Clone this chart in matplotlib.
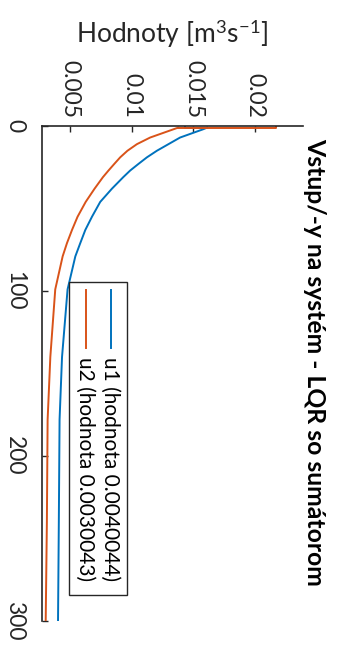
import matplotlib
matplotlib.use("Agg")
import matplotlib.pyplot as plt
from matplotlib.patches import Rectangle

plt.rcParams['font.family'] = ['Lato', 'DejaVu Sans']
plt.rcParams['mathtext.fontset'] = 'custom'
plt.rcParams['mathtext.rm'] = 'Lato'
plt.rcParams['mathtext.it'] = 'Lato:italic'
plt.rcParams['mathtext.bf'] = 'Lato:bold'

# ---- data -------------------------------------------------------------
title = 'Vstup/-y na systém - LQR so sumátorom'
value_label = 'Hodnoty [m$^3$s$^{-1}$]'
series_names = ['u1', 'u2']
final_values = [0.0040044, 0.0030043]

time_ticks = [0, 100, 200, 300]
time_tick_labels = ['0', '100', '200', '300']
value_ticks = [0.005, 0.01, 0.015, 0.02]
value_tick_labels = ['0.005', '0.01', '0.015', '0.02']

t_u1 = [0, 1, 2, 7, 11, 15, 19, 23, 27, 31, 38, 46, 55, 63, 71, 79,
        99, 140, 178, 240, 300]
u1 = [0.01432, 0.01610, 0.01578, 0.01391, 0.01297, 0.01203, 0.01122,
      0.01053, 0.00986, 0.00930, 0.00838, 0.00743, 0.00676, 0.00622,
      0.00581, 0.00541, 0.00478, 0.00433, 0.00413, 0.00407, 0.0040044]

t_u2 = [0, 1, 7, 11, 15, 19, 23, 27, 31, 38, 46, 55, 63, 71, 79,
        99, 140, 178, 240, 300]
u2 = [0.02172, 0.01375, 0.01148, 0.01041, 0.00964, 0.00905, 0.00857,
      0.00810, 0.00765, 0.00697, 0.00625, 0.00559, 0.00514, 0.00473,
      0.00438, 0.00378, 0.00338, 0.00316, 0.00310, 0.0030043]

colors = ['#0072BD', '#D95319']
axis_color = '#262626'

# ---- figure -----------------------------------------------------------
W, H = 339, 647
fig = plt.figure(figsize=(W / 100, H / 100), dpi=100)
ax_left, ax_right, ax_top, ax_bottom = 42, 303, 126, 621
ax = fig.add_axes([ax_left / W, 1 - ax_bottom / H,
                   (ax_right - ax_left) / W, (ax_bottom - ax_top) / H])

for t, u, c in zip([t_u1, t_u2], [u1, u2], colors):
    # first sample is held for one step before the response starts
    ax.plot(u[:2], t[:2], drawstyle='steps-pre', color=c, lw=1.4)
    ax.plot(u[1:], t[1:], color=c, lw=1.4)

all_u = u1 + u2
ax.set_xlim(0.9 * min(all_u), 1.1 * max(all_u))
ax.set_ylim(300, 0)

ax.xaxis.tick_top()
ax.set_xticks(value_ticks, value_tick_labels)
ax.set_yticks(time_ticks, time_tick_labels)
ax.tick_params(axis='both', direction='in', length=4, width=1.0,
               color=axis_color, labelcolor=axis_color, labelsize=16.5)
ax.tick_params(axis='x', labelrotation=-90, pad=6)
ax.tick_params(axis='y', labelrotation=-90, pad=12)
for lbl in ax.get_yticklabels():
    lbl.set_verticalalignment('center')
    lbl.set_horizontalalignment('right')

for side in ['right', 'bottom']:
    ax.spines[side].set_visible(False)
for side in ['left', 'top']:
    ax.spines[side].set_color(axis_color)
    ax.spines[side].set_linewidth(1.2)

# value-axis label above the plot
fig.text((ax_left + ax_right) / 2 / W, 1 - 34 / H, value_label,
         ha='center', va='center', fontsize=19, color=axis_color)

# title along the right side
fig.text(315 / W, 1 - 362 / H, title, rotation=-90, ha='center',
         va='center', fontsize=17.8, fontweight='bold', color='black')

# legend box with rotated entries
box = Rectangle((0.1034, 0.0525), 0.3257 - 0.1034, 0.6848 - 0.0525,
                transform=ax.transAxes, facecolor='white',
                edgecolor=axis_color, lw=1.0, zorder=5)
ax.add_patch(box)
entry_x = [0.2644, 0.1686]
for name, val, c, x in zip(series_names, final_values, colors, entry_x):
    ax.plot([x, x], [0.6687, 0.5515], transform=ax.transAxes, color=c,
            lw=1.4, zorder=6)
    ax.text(x - 0.005, 0.5333, f'{name} (hodnota {val})',
            transform=ax.transAxes, rotation=-90, rotation_mode='anchor',
            ha='left', va='center', fontsize=15, color='black', zorder=6)

fig.savefig('out.png', dpi=100)
